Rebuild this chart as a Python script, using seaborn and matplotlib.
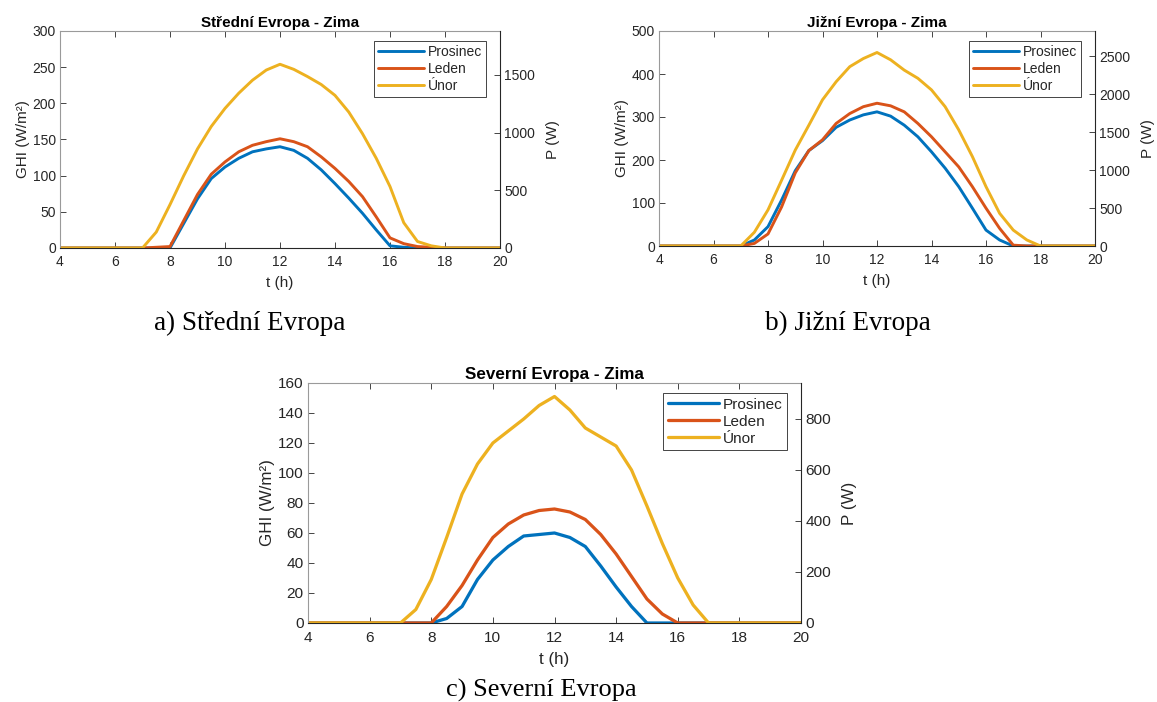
import matplotlib
matplotlib.use("Agg")
import matplotlib.pyplot as plt
import numpy as np
import pandas as pd
import seaborn as sns

# ---------------------------------------------------------
# Data (half-hour steps 4:00 - 20:00)
# ---------------------------------------------------------
HOURS = [4.0, 4.5, 5.0, 5.5, 6.0, 6.5, 7.0, 7.5, 8.0, 8.5, 9.0, 9.5, 10.0, 10.5,
         11.0, 11.5, 12.0, 12.5, 13.0, 13.5, 14.0, 14.5, 15.0, 15.5, 16.0, 16.5,
         17.0, 17.5, 18.0, 18.5, 19.0, 19.5, 20.0]
MONTHS = ["Prosinec", "Leden", "Únor"]
COLORS = ["#0072BD", "#D95319", "#EDB120"]

# a) Stredni Evropa
stred_prosinec = [0, 0, 0, 0, 0, 0, 0, 0, 0, 34, 68, 96, 112, 124, 133, 137, 140,
                  135, 124, 108, 89, 69, 48, 25, 3, 1, 0, 0, 0, 0, 0, 0, 0]
stred_leden = [0, 0, 0, 0, 0, 0, 0, 1, 2, 38, 74, 102, 119, 133, 142, 147, 151,
               147, 140, 126, 110, 92, 71, 43, 14, 6, 2, 1, 0, 0, 0, 0, 0]
stred_unor = [0, 0, 0, 0, 0, 0, 0, 22, 60, 100, 137, 168, 193, 214, 232, 246, 254,
              247, 237, 226, 211, 188, 158, 124, 85, 35, 9, 3, 0, 0, 0, 0, 0]

# b) Jizni Evropa
jih_prosinec = [0, 0, 0, 0, 0, 0, 0, 14, 45, 107, 175, 222, 245, 276, 293, 305, 312,
                302, 281, 254, 219, 181, 138, 88, 37, 14, 0, 0, 0, 0, 0, 0, 0]
jih_leden = [0, 0, 0, 0, 0, 0, 0, 6, 28, 91, 170, 222, 247, 285, 308, 324, 332,
             326, 312, 285, 254, 219, 184, 138, 88, 41, 2, 0, 0, 0, 0, 0, 0]
jih_unor = [0, 0, 0, 0, 0, 0, 0, 32, 84, 153, 223, 281, 340, 382, 417, 436, 450,
            433, 409, 390, 363, 324, 270, 208, 138, 76, 37, 14, 0, 0, 0, 0, 0]

# c) Severni Evropa
sever_prosinec = [0, 0, 0, 0, 0, 0, 0, 0, 0, 3, 11, 29, 42, 51, 58, 59, 60,
                  57, 51, 38, 24, 11, 0, 0, 0, 0, 0, 0, 0, 0, 0, 0, 0]
sever_leden = [0, 0, 0, 0, 0, 0, 0, 0, 0, 11, 25, 42, 57, 66, 72, 75, 76,
               74, 69, 59, 46, 31, 16, 6, 0, 0, 0, 0, 0, 0, 0, 0, 0]
sever_unor = [0, 0, 0, 0, 0, 0, 0, 9, 29, 57, 86, 106, 120, 128, 136, 145, 151,
              142, 130, 124, 118, 102, 78, 53, 30, 12, 0, 0, 0, 0, 0, 0, 0]

TITLES = ["Střední Evropa - Zima", "Jižní Evropa - Zima", "Severní Evropa - Zima"]
CAPTIONS = ["a) Střední Evropa", "b) Jižní Evropa", "c) Severní Evropa"]
GHI_TICKS = [np.arange(0, 301, 50), np.arange(0, 501, 100), np.arange(0, 161, 20)]
P_TICKS = [[0, 500, 1000, 1500], [0, 500, 1000, 1500, 2000, 2500], [0, 200, 400, 600, 800]]
P_MAX = [1881, 2829, 941]

series = [
    [stred_prosinec, stred_leden, stred_unor],
    [jih_prosinec, jih_leden, jih_unor],
    [sever_prosinec, sever_leden, sever_unor],
]

# ---------------------------------------------------------
# Layout (pixel boxes from the reference, 1157 x 702)
# ---------------------------------------------------------
W, H = 1157, 702
BOXES = [(60, 31, 440, 217), (659, 31, 436, 215), (308, 383, 493, 240)]
SCALE = [1.0, 1.0, 1.11]
CAPTION_POS = [(250, 323), (848, 323), (541, 690)]
CAPTION_SIZE = [19.5, 19.5, 19]

sns.set_theme(style="white")
plt.rcParams["font.family"] = ["Liberation Sans", "DejaVu Sans"]
AX_COLOR = "#262626"

fig = plt.figure(figsize=(W / 100, H / 100), dpi=100)

for i in range(3):
    x0, y0, w, h = BOXES[i]
    s = SCALE[i]
    ax = fig.add_axes([x0 / W, 1 - (y0 + h) / H, w / W, h / H])

    df = pd.DataFrame({
        "t": HOURS * 3,
        "GHI": series[i][0] + series[i][1] + series[i][2],
        "mesic": [m for m in MONTHS for _ in HOURS],
    })
    sns.lineplot(data=df, x="t", y="GHI", hue="mesic", hue_order=MONTHS,
                 palette=COLORS, linewidth=2.1 * s, legend=False, ax=ax, sort=False)
    for ln in ax.get_lines():
        ln.set_solid_joinstyle("round")

    ax.set_xlim(4, 20)
    ax.set_ylim(0, GHI_TICKS[i][-1])
    ax.set_xticks(np.arange(4, 21, 2))
    ax.set_yticks(GHI_TICKS[i])
    ax.set_xlabel("t (h)", fontsize=11 * s, color=AX_COLOR, labelpad=5 * s)
    ax.set_ylabel("GHI (W/m²)", fontsize=11 * s, color=AX_COLOR, labelpad=2)
    ax.set_title(TITLES[i], fontsize=11 * s, fontweight="bold", color="black", pad=3)
    ax.tick_params(axis="both", direction="in", length=4, width=0.6, color=AX_COLOR,
                   labelsize=10 * s, labelcolor=AX_COLOR)
    ax.tick_params(axis="x", top=True, bottom=True, pad=5 * s)
    ax.tick_params(axis="y", left=True, right=False, pad=3)
    for side in ["left", "top"]:
        ax.spines[side].set_color("#9a9a9a")
        ax.spines[side].set_linewidth(0.8)
    ax.spines["bottom"].set_color(AX_COLOR)
    ax.spines["bottom"].set_linewidth(0.8)
    ax.spines["right"].set_visible(False)

    ax2 = ax.twinx()
    ax2.set_ylim(0, P_MAX[i])
    ax2.set_yticks(P_TICKS[i])
    ax2.set_ylabel("P (W)", fontsize=11 * s, color=AX_COLOR, labelpad=8)
    ax2.tick_params(axis="y", direction="in", length=4, width=0.6, color=AX_COLOR,
                    labelsize=10 * s, labelcolor=AX_COLOR, pad=3)
    for side in ["left", "top", "bottom"]:
        ax2.spines[side].set_visible(False)
    ax2.spines["right"].set_color(AX_COLOR)
    ax2.spines["right"].set_linewidth(0.8)
    ax2.grid(False)

    lines = ax.get_lines()[:3]
    leg = ax2.legend(lines, MONTHS, loc="upper right",
                     bbox_to_anchor=(1 - 14 / w, 1 - 10 / h), borderaxespad=0,
                     fontsize=10 * s, frameon=True, fancybox=False, framealpha=1,
                     edgecolor=AX_COLOR, handlelength=3.3, handletextpad=0.25,
                     labelspacing=0.2, borderpad=0.3)
    leg.get_frame().set_linewidth(0.6)
    for txt in leg.get_texts():
        txt.set_color(AX_COLOR)

    cx, cy = CAPTION_POS[i]
    fig.text(cx / W, 1 - cy / H, CAPTIONS[i], ha="center", va="center",
             fontsize=CAPTION_SIZE[i], family=["Liberation Serif", "DejaVu Serif"],
             color="black")

fig.savefig("out.png", dpi=100)
